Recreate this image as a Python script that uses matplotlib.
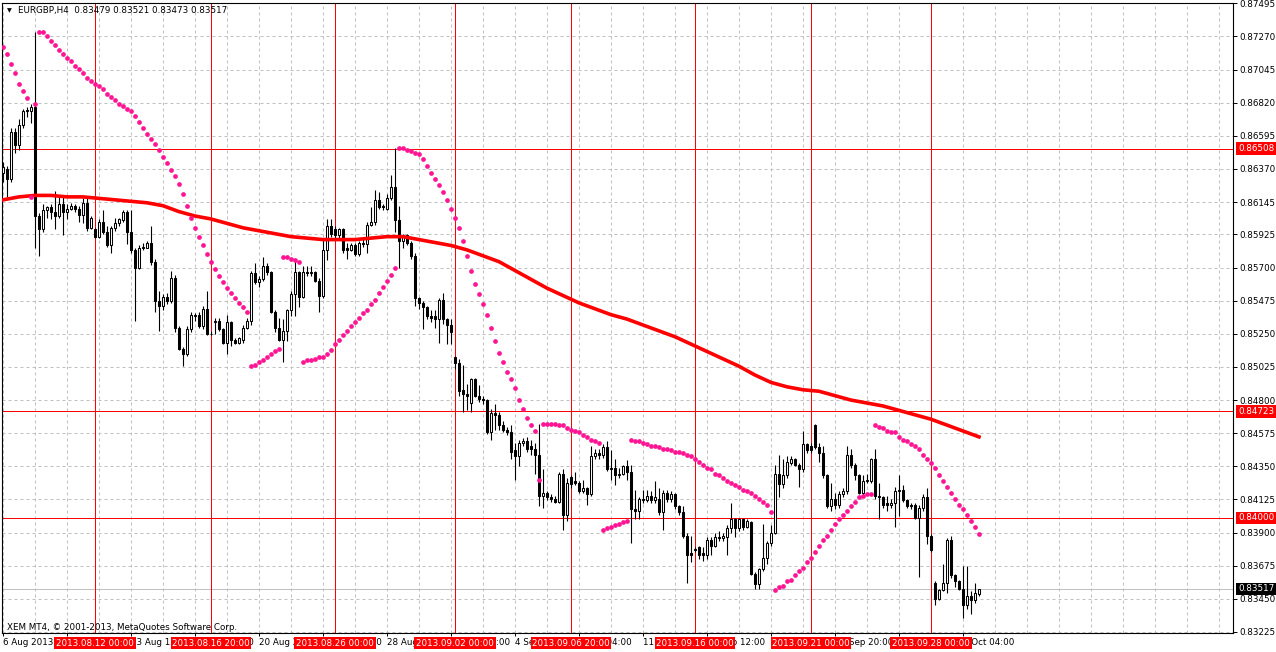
import numpy as np
import matplotlib
matplotlib.use("Agg")
import matplotlib.pyplot as plt

plt.rcParams['font.family'] = ['DejaVu Sans']

symbol = "EURGBP,H4"
last_bar = "0.83479 0.83521 0.83473 0.83517"
copyright_text = "XEM MT4, \u00a9 2001-2013, MetaQuotes Software Corp."

# H4 bars, prices in 1e-4 units
opens = [
    8634, 8637, 8630, 8662, 8653, 8667, 8676, 8676, 8679, 8605,
    8596, 8609, 8611, 8608, 8605, 8613, 8608, 8610, 8612, 8610,
    8606, 8614, 8597, 8596, 8591, 8601, 8594, 8585, 8597, 8600,
    8602, 8608, 8594, 8582, 8570, 8583, 8583, 8587, 8574, 8547,
    8544, 8550, 8547, 8563, 8529, 8515, 8511, 8528, 8537, 8538,
    8530, 8542, 8525, 8533, 8534, 8528, 8519, 8533, 8521, 8519,
    8521, 8529, 8534, 8566, 8560, 8562, 8571, 8567, 8540, 8529,
    8521, 8527, 8541, 8552, 8567, 8550, 8567, 8566, 8567, 8561,
    8551, 8582, 8598, 8596, 8592, 8596, 8583, 8582, 8585, 8579,
    8587, 8586, 8599, 8601, 8616, 8612, 8610, 8617, 8625, 8602,
    8588, 8592, 8587, 8578, 8549, 8546, 8543, 8537, 8537, 8535,
    8548, 8535, 8531, 8509, 8505, 8487, 8484, 8478, 8494, 8483,
    8481, 8480, 8458, 8471, 8470, 8463, 8460, 8458, 8446, 8442,
    8451, 8452, 8449, 8447, 8443, 8415, 8417, 8414, 8413, 8411,
    8430, 8402, 8428, 8425, 8424, 8418, 8420, 8416, 8442, 8444,
    8443, 8448, 8434, 8434, 8429, 8430, 8435, 8431, 8406, 8405,
    8413, 8412, 8415, 8412, 8413, 8404, 8417, 8413, 8416, 8408,
    8404, 8388, 8376, 8379, 8380, 8376, 8375, 8385, 8381, 8386,
    8386, 8387, 8393, 8399, 8393, 8399, 8394, 8397, 8362, 8355,
    8365, 8373, 8383, 8390, 8430, 8423, 8429, 8437, 8440, 8436,
    8433, 8450, 8449, 8463, 8448, 8444, 8429, 8408, 8413, 8409,
    8416, 8418, 8443, 8436, 8429, 8417, 8425, 8425, 8440, 8415,
    8414, 8410, 8409, 8410, 8418, 8419, 8412, 8409, 8409, 8400,
    8407, 8414, 8388, 8356, 8345, 8351, 8356, 8385, 8361, 8357,
    8352, 8341, 8347, 8344, 8348,
]
highs = [
    8642, 8639, 8665, 8665, 8671, 8678, 8679, 8681, 8730, 8607,
    8613, 8612, 8613, 8622, 8618, 8619, 8613, 8614, 8613, 8612,
    8617, 8617, 8605, 8597, 8603, 8609, 8598, 8598, 8604, 8604,
    8609, 8609, 8609, 8583, 8585, 8587, 8588, 8598, 8576, 8554,
    8552, 8553, 8568, 8565, 8530, 8516, 8530, 8540, 8539, 8540,
    8544, 8554, 8527, 8536, 8536, 8529, 8538, 8534, 8522, 8523,
    8531, 8536, 8568, 8573, 8564, 8577, 8573, 8568, 8541, 8536,
    8535, 8542, 8554, 8575, 8568, 8571, 8571, 8571, 8568, 8563,
    8589, 8603, 8603, 8598, 8597, 8597, 8587, 8587, 8587, 8588,
    8591, 8601, 8611, 8623, 8621, 8613, 8620, 8633, 8651, 8612,
    8593, 8593, 8588, 8580, 8550, 8547, 8544, 8541, 8541, 8549,
    8553, 8536, 8535, 8510, 8508, 8504, 8491, 8495, 8495, 8490,
    8483, 8481, 8474, 8477, 8472, 8466, 8462, 8463, 8451, 8453,
    8454, 8455, 8453, 8451, 8464, 8433, 8418, 8416, 8415, 8431,
    8433, 8427, 8429, 8431, 8425, 8426, 8421, 8449, 8447, 8447,
    8450, 8452, 8446, 8440, 8434, 8436, 8439, 8436, 8419, 8414,
    8419, 8419, 8418, 8425, 8420, 8419, 8419, 8418, 8417, 8409,
    8408, 8390, 8388, 8380, 8381, 8380, 8387, 8387, 8390, 8391,
    8390, 8395, 8410, 8400, 8400, 8400, 8399, 8398, 8363, 8366,
    8396, 8384, 8395, 8436, 8443, 8440, 8442, 8442, 8441, 8437,
    8459, 8451, 8451, 8464, 8451, 8449, 8430, 8424, 8417, 8418,
    8420, 8449, 8447, 8437, 8430, 8429, 8430, 8441, 8447, 8424,
    8415, 8415, 8413, 8421, 8429, 8422, 8413, 8410, 8410, 8409,
    8416, 8420, 8389, 8357, 8352, 8369, 8386, 8388, 8362, 8358,
    8367, 8367, 8350, 8356, 8352,
]
lows = [
    8628, 8618, 8628, 8648, 8650, 8665, 8672, 8668, 8583, 8578,
    8594, 8604, 8603, 8596, 8604, 8592, 8603, 8609, 8608, 8601,
    8600, 8595, 8596, 8590, 8590, 8593, 8584, 8580, 8595, 8598,
    8601, 8586, 8580, 8534, 8569, 8582, 8583, 8572, 8540, 8527,
    8541, 8545, 8546, 8526, 8514, 8503, 8510, 8526, 8534, 8529,
    8528, 8524, 8524, 8525, 8527, 8518, 8511, 8517, 8518, 8518,
    8519, 8528, 8531, 8559, 8557, 8561, 8565, 8539, 8526, 8520,
    8506, 8520, 8537, 8537, 8543, 8549, 8564, 8564, 8560, 8540,
    8549, 8575, 8591, 8590, 8590, 8580, 8576, 8581, 8578, 8578,
    8584, 8580, 8598, 8599, 8610, 8609, 8609, 8616, 8594, 8570,
    8583, 8585, 8576, 8544, 8542, 8528, 8535, 8533, 8529, 8519,
    8532, 8518, 8518, 8501, 8483, 8472, 8473, 8472, 8482, 8479,
    8477, 8457, 8453, 8460, 8460, 8458, 8456, 8440, 8426, 8435,
    8449, 8445, 8443, 8430, 8408, 8407, 8412, 8411, 8410, 8410,
    8392, 8398, 8420, 8422, 8417, 8417, 8409, 8415, 8440, 8440,
    8441, 8432, 8426, 8422, 8427, 8429, 8426, 8383, 8399, 8399,
    8410, 8411, 8410, 8410, 8402, 8392, 8411, 8411, 8406, 8402,
    8386, 8356, 8370, 8377, 8372, 8371, 8372, 8375, 8380, 8384,
    8384, 8375, 8390, 8387, 8391, 8392, 8393, 8361, 8352, 8352,
    8364, 8369, 8381, 8389, 8414, 8420, 8427, 8436, 8435, 8421,
    8431, 8444, 8444, 8447, 8438, 8427, 8407, 8405, 8406, 8407,
    8414, 8416, 8434, 8426, 8416, 8415, 8424, 8424, 8413, 8399,
    8407, 8405, 8407, 8394, 8401, 8411, 8407, 8406, 8399, 8360,
    8405, 8382, 8377, 8341, 8344, 8350, 8349, 8359, 8353, 8351,
    8332, 8338, 8335, 8342, 8347,
]
closes = [
    8638, 8630, 8662, 8653, 8667, 8676, 8677, 8679, 8605, 8596,
    8609, 8611, 8608, 8605, 8613, 8608, 8610, 8612, 8610, 8606,
    8614, 8597, 8604, 8591, 8601, 8594, 8585, 8597, 8600, 8603,
    8608, 8594, 8582, 8570, 8583, 8584, 8587, 8574, 8547, 8544,
    8550, 8547, 8563, 8529, 8515, 8511, 8528, 8538, 8538, 8530,
    8542, 8525, 8525, 8534, 8528, 8519, 8533, 8521, 8519, 8522,
    8529, 8534, 8566, 8560, 8562, 8571, 8567, 8540, 8529, 8521,
    8527, 8541, 8552, 8567, 8550, 8567, 8566, 8567, 8561, 8551,
    8582, 8598, 8593, 8592, 8596, 8582, 8582, 8585, 8579, 8587,
    8586, 8599, 8601, 8616, 8611, 8611, 8617, 8625, 8602, 8588,
    8592, 8587, 8578, 8549, 8546, 8543, 8537, 8536, 8535, 8548,
    8535, 8531, 8526, 8505, 8486, 8484, 8483, 8494, 8483, 8481,
    8480, 8458, 8471, 8470, 8463, 8460, 8458, 8445, 8442, 8451,
    8452, 8447, 8447, 8443, 8415, 8417, 8414, 8413, 8411, 8430,
    8402, 8424, 8423, 8424, 8418, 8420, 8416, 8442, 8444, 8443,
    8448, 8433, 8433, 8429, 8430, 8435, 8431, 8406, 8405, 8413,
    8412, 8415, 8412, 8414, 8404, 8417, 8413, 8416, 8408, 8404,
    8388, 8375, 8375, 8378, 8375, 8375, 8385, 8381, 8387, 8387,
    8388, 8393, 8399, 8393, 8399, 8394, 8398, 8362, 8355, 8365,
    8373, 8383, 8390, 8430, 8423, 8429, 8438, 8440, 8436, 8433,
    8450, 8446, 8446, 8448, 8444, 8429, 8408, 8413, 8409, 8416,
    8418, 8443, 8436, 8429, 8417, 8425, 8426, 8440, 8415, 8414,
    8409, 8409, 8410, 8418, 8419, 8412, 8408, 8408, 8400, 8407,
    8414, 8388, 8378, 8345, 8351, 8356, 8385, 8361, 8357, 8352,
    8341, 8347, 8344, 8349, 8352,
]

# parabolic SAR, one dot per bar
sar = [
    8720, 8715, 8708, 8702, 8695, 8690, 8685, 8618, 8681, 8730,
    8730, 8727, 8724, 8721, 8718, 8715, 8712, 8710, 8707, 8705,
    8702, 8699, 8697, 8695, 8693, 8691, 8688, 8686, 8684, 8681,
    8680, 8678, 8676, 8673, 8669, 8665, 8661, 8657, 8654, 8650,
    8645, 8641, 8636, 8632, 8627, 8620, 8612, 8604, 8597, 8591,
    8585, 8579, 8574, 8569, 8564, 8560, 8556, 8553, 8549, 8546,
    8543, 8540, 8503, 8504, 8506, 8507, 8509, 8511, 8513, 8515,
    8577, 8577, 8576, 8575, 8574, 8506, 8507, 8507, 8508, 8509,
    8509, 8511, 8514, 8518, 8521, 8524, 8527, 8530, 8533, 8536,
    8539, 8541, 8545, 8548, 8553, 8557, 8561, 8565, 8570, 8651,
    8651, 8650, 8649, 8648, 8647, 8644, 8639, 8634, 8630, 8626,
    8621, 8616, 8610, 8604, 8597, 8588, 8578, 8568, 8559, 8552,
    8545, 8538, 8529, 8520, 8512, 8506, 8499, 8494, 8488, 8480,
    8474, 8468, 8463, 8459, 8426, 8464, 8464, 8464, 8464, 8463,
    8463, 8461, 8460, 8459, 8458, 8456, 8455, 8453, 8452, 8451,
    8392, 8393, 8394, 8395, 8396, 8397, 8398, 8453, 8452, 8452,
    8451, 8450, 8449, 8449, 8448, 8447, 8447, 8446, 8445, 8445,
    8444, 8443, 8442, 8440, 8438, 8436, 8434, 8433, 8430, 8429,
    8427, 8425, 8424, 8422, 8421, 8419, 8418, 8417, 8415, 8413,
    8411, 8409, 8404, 8351, 8353, 8354, 8357, 8358, 8361, 8364,
    8366, 8370, 8373, 8377, 8381, 8385, 8388, 8392, 8396, 8399,
    8402, 8405, 8408, 8411, 8414, 8415, 8416, 8416, 8463, 8462,
    8461, 8459, 8458, 8458, 8455, 8453, 8452, 8450, 8449, 8447,
    8443, 8440, 8437, 8434, 8429, 8425, 8421, 8417, 8413, 8409,
    8406, 8402, 8398, 8394, 8389,
]

# moving average, read every 4th bar
ma_step = 4
ma = [
    8616, 8618, 8619, 8619, 8618, 8618, 8617, 8616, 8615, 8614,
    8612, 8608, 8605, 8603, 8600, 8597, 8595, 8593, 8591, 8590,
    8589, 8589, 8589, 8590, 8591, 8591, 8589, 8587, 8585, 8582,
    8578, 8574, 8568, 8562, 8556, 8551, 8546, 8542, 8538, 8535,
    8531, 8527, 8523, 8518, 8513, 8508, 8503, 8497, 8492, 8489,
    8487, 8486, 8483, 8480, 8478, 8476, 8473, 8470, 8467, 8463,
    8459, 8455,
]

# horizontal lines (red) and bid line
hlines = [0.86508, 0.84723, 0.84000]
bid = 0.83517

# vertical lines: bar index and label
vline_bars = [23, 52, 83, 113, 142, 173, 202, 232]
vline_labels = ["2013.08.12 00:00", "2013.08.16 20:00", "2013.08.26 00:00",
                "2013.09.02 00:00", "2013.09.06 20:00", "2013.09.16 00:00",
                "2013.09.21 00:00", "2013.09.28 00:00"]

price_ticks = [0.87495, 0.87270, 0.87045, 0.86820, 0.86595, 0.86370, 0.86145,
               0.85925, 0.85700, 0.85475, 0.85250, 0.85025, 0.84800, 0.84575,
               0.84350, 0.84125, 0.83900, 0.83675, 0.83450, 0.83225]

time_tick_step = 16
time_labels = ["6 Aug 2013", "8 Aug 20:00", "13 Aug 12:00", "16 Aug 04:00",
               "20 Aug 20:00", "23 Aug 12:00", "28 Aug 04:00", "30 Aug 20:00",
               "4 Sep 12:00", "9 Sep 04:00", "11 Sep 20:00", "16 Sep 12:00",
               "19 Sep 04:00", "23 Sep 20:00", "26 Sep 12:00", "1 Oct 04:00"]

o = np.array(opens) / 1e4
h = np.array(highs) / 1e4
l = np.array(lows) / 1e4
c = np.array(closes) / 1e4
x = np.arange(len(o))

W, H = 1276, 652
fig = plt.figure(figsize=(W / 100, H / 100), dpi=100)
ax = fig.add_axes([2 / W, 1 - 632.5 / H, 1231 / W, 629.5 / H])
ax.set_xlim(-0.25, 307.5)
ax.set_ylim(0.832215, 0.874968)

fs = 6.3
grid_col = "#c0c0c0"

for p in price_ticks:
    ax.axhline(p, color=grid_col, lw=0.72, ls=(0, (3, 3)), zorder=0.5)
for gx in range(0, 308, 8):
    ax.axvline(gx, color=grid_col, lw=0.72, ls=(0, (3, 3)), zorder=0.5)

for p in hlines:
    ax.axhline(p, color="red", lw=0.72, zorder=1)
ax.axhline(bid, color=grid_col, lw=0.72, zorder=1)
for b in vline_bars:
    ax.axvline(b, color="red", lw=0.72, zorder=1)

# candles
ax.vlines(x, l, h, color="black", lw=0.8, zorder=2)
up = c >= o
body_low = np.minimum(o, c)
body_h = np.maximum(np.abs(c - o), 0.000005)
ax.bar(x[up], body_h[up], bottom=body_low[up], width=0.72, color="white",
       edgecolor="black", linewidth=0.75, zorder=3)
ax.bar(x[~up], body_h[~up], bottom=body_low[~up], width=0.72, color="black",
       edgecolor="black", linewidth=0.75, zorder=3)

# moving average
ma_x = np.arange(len(ma)) * ma_step
ax.plot(ma_x, np.array(ma) / 1e4, color="red", lw=2.6, zorder=4,
        solid_joinstyle="round")

# parabolic SAR
ax.plot(x, np.array(sar) / 1e4, ls="none", marker="o", ms=3.4, mew=0,
        color="#ff1493", zorder=5)

for s in ax.spines.values():
    s.set_color("black")
    s.set_linewidth(0.8)

ax.yaxis.tick_right()
ax.set_yticks(price_ticks)
ax.set_yticklabels(["%.5f" % p for p in price_ticks])
ax.tick_params(axis="y", direction="out", length=3, width=0.7, pad=1.5,
               labelsize=fs, colors="black")

ax.set_xticks([i * time_tick_step for i in range(len(time_labels))])
ax.set_xticklabels(time_labels)
ax.tick_params(axis="x", direction="out", length=2.2, width=0.7, pad=1.5,
               labelsize=fs, colors="black")
for t in ax.get_xticklabels():
    t.set_ha("left")

# red/black price boxes on the right scale
ytr = ax.get_yaxis_transform()
for p in hlines:
    ax.text(1.0042, p, "%.5f" % p, transform=ytr, ha="left", va="center",
            color="white", fontsize=fs, zorder=10, clip_on=False,
            bbox=dict(boxstyle="square,pad=0.2", fc="red", ec="none"))
ax.text(1.0042, bid, "%.5f" % bid, transform=ytr, ha="left", va="center",
        color="white", fontsize=fs, zorder=10, clip_on=False,
        bbox=dict(boxstyle="square,pad=0.2", fc="black", ec="none"))

# date boxes on the time scale
xtr = ax.get_xaxis_transform()
for b, lab in zip(vline_bars, vline_labels):
    ax.text(b, -0.0167, lab, transform=xtr, ha="center", va="center",
            color="white", fontsize=fs, zorder=10, clip_on=False,
            bbox=dict(boxstyle="square,pad=0.18", fc="red", ec="none"))

fig.text(7 / W, 1 - 10.5 / H, "\u25bc", fontsize=4.5, ha="left", va="center")
fig.text(18 / W, 1 - 10.5 / H, symbol + "  " + last_bar, fontsize=fs,
         ha="left", va="center")
fig.text(7 / W, 1 - 627 / H, copyright_text, fontsize=fs, ha="left",
         va="center")

fig.savefig("out.png", dpi=100)
